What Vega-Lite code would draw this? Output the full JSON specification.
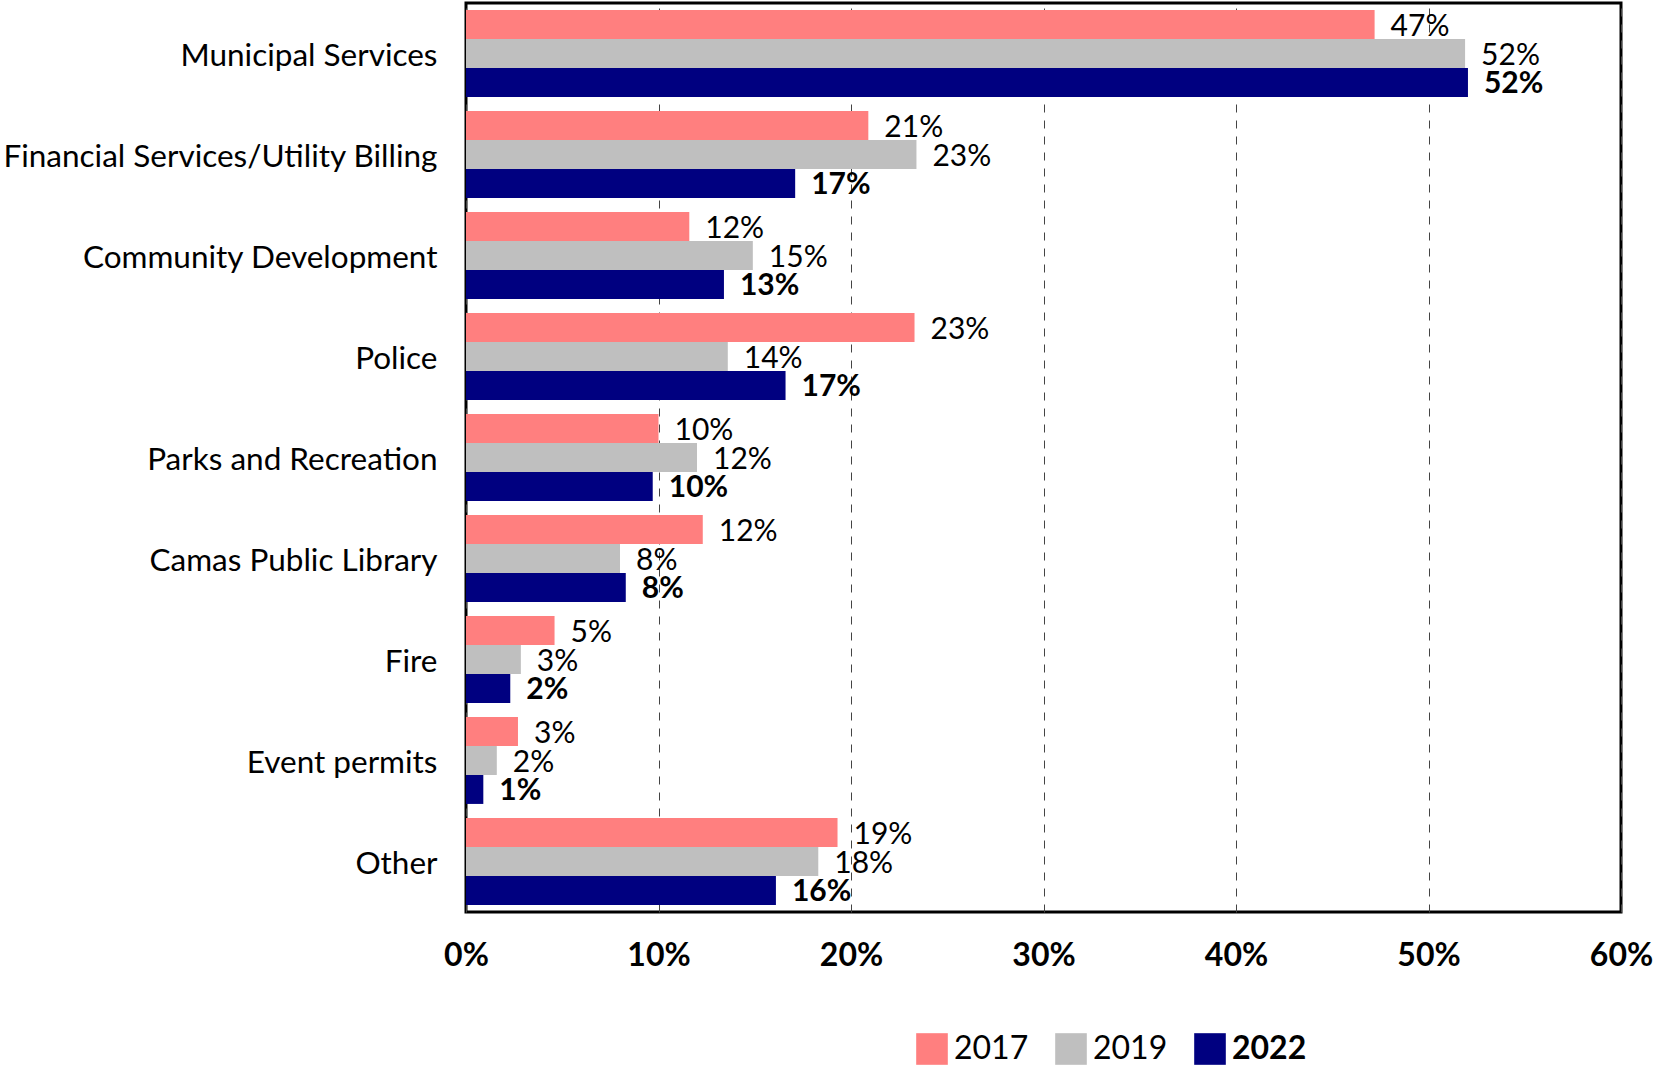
{
  "$schema": "https://vega.github.io/schema/vega-lite/v6.json",
  "width": 1155,
  "height": 909,
  "autosize": {"type": "none"},
  "padding": {"left": 466, "top": 3, "right": 33, "bottom": 153},
  "background": "white",
  "config": {
    "font": "Lato",
    "view": {"stroke": "black", "strokeWidth": 3}
  },
  "data": {
    "values": [
      {"category": "Municipal Services", "year": "2017", "value": 0.472},
      {"category": "Municipal Services", "year": "2019", "value": 0.519},
      {"category": "Municipal Services", "year": "2022", "value": 0.5205},
      {"category": "Financial Services/Utility Billing", "year": "2017", "value": 0.209},
      {"category": "Financial Services/Utility Billing", "year": "2019", "value": 0.234},
      {"category": "Financial Services/Utility Billing", "year": "2022", "value": 0.171},
      {"category": "Community Development", "year": "2017", "value": 0.116},
      {"category": "Community Development", "year": "2019", "value": 0.149},
      {"category": "Community Development", "year": "2022", "value": 0.134},
      {"category": "Police", "year": "2017", "value": 0.233},
      {"category": "Police", "year": "2019", "value": 0.136},
      {"category": "Police", "year": "2022", "value": 0.166},
      {"category": "Parks and Recreation", "year": "2017", "value": 0.100},
      {"category": "Parks and Recreation", "year": "2019", "value": 0.120},
      {"category": "Parks and Recreation", "year": "2022", "value": 0.097},
      {"category": "Camas Public Library", "year": "2017", "value": 0.123},
      {"category": "Camas Public Library", "year": "2019", "value": 0.080},
      {"category": "Camas Public Library", "year": "2022", "value": 0.083},
      {"category": "Fire", "year": "2017", "value": 0.046},
      {"category": "Fire", "year": "2019", "value": 0.0285},
      {"category": "Fire", "year": "2022", "value": 0.023},
      {"category": "Event permits", "year": "2017", "value": 0.027},
      {"category": "Event permits", "year": "2019", "value": 0.016},
      {"category": "Event permits", "year": "2022", "value": 0.009},
      {"category": "Other", "year": "2017", "value": 0.193},
      {"category": "Other", "year": "2019", "value": 0.183},
      {"category": "Other", "year": "2022", "value": 0.161}
    ]
  },
  "encoding": {
    "y": {
      "field": "category",
      "type": "nominal",
      "sort": null,
      "title": null,
      "scale": {"paddingInner": 0.14, "paddingOuter": 0.07},
      "axis": {
        "domain": false,
        "ticks": false,
        "labelFontSize": 31.5,
        "labelColor": "black",
        "labelPadding": 29,
        "labelOffset": 3,
        "labelLimit": 600
      }
    },
    "yOffset": {"field": "year", "type": "nominal", "sort": ["2017", "2019", "2022"]},
    "x": {
      "field": "value",
      "type": "quantitative",
      "title": null,
      "scale": {"domain": [0, 0.6], "nice": false},
      "axis": {
        "format": ".0%",
        "values": [0, 0.1, 0.2, 0.3, 0.4, 0.5, 0.6],
        "domain": false,
        "ticks": false,
        "grid": true,
        "gridColor": "#444444",
        "gridDash": [8, 8],
        "gridWidth": 1,
        "labelFontSize": 32,
        "labelFontWeight": "bold",
        "labelColor": "black",
        "labelPadding": 28,
        "labelFlush": false
      }
    }
  },
  "layer": [
    {
      "mark": {"type": "bar"},
      "encoding": {
        "color": {
          "field": "year",
          "type": "nominal",
          "scale": {"domain": ["2017", "2019", "2022"], "range": ["#FF7F7F", "#BFBFBF", "#000080"]},
          "legend": {
            "title": null,
            "orient": "none",
            "direction": "horizontal",
            "legendX": 450,
            "legendY": 1030,
            "symbolType": "square",
            "symbolSize": 1000,
            "symbolStrokeWidth": 0,
            "labelFontSize": 32,
            "labelColor": "black",
            "labelOffset": 6,
            "columnPadding": 26,
            "encode": {
              "labels": {
                "update": {
                  "fontWeight": {"signal": "datum.label === '2022' ? 'bold' : 'normal'"}
                }
              }
            }
          }
        }
      }
    },
    {
      "transform": [{"filter": "datum.year !== '2022'"}],
      "mark": {"type": "text", "align": "left", "baseline": "middle", "dx": 16, "dy": 2, "fontSize": 30, "color": "black"},
      "encoding": {
        "text": {"field": "value", "type": "quantitative", "format": ".0%"}
      }
    },
    {
      "transform": [{"filter": "datum.year === '2022'"}],
      "mark": {"type": "text", "align": "left", "baseline": "middle", "dx": 16, "dy": 2, "fontSize": 30, "fontWeight": "bold", "color": "black"},
      "encoding": {
        "text": {"field": "value", "type": "quantitative", "format": ".0%"}
      }
    }
  ]
}
